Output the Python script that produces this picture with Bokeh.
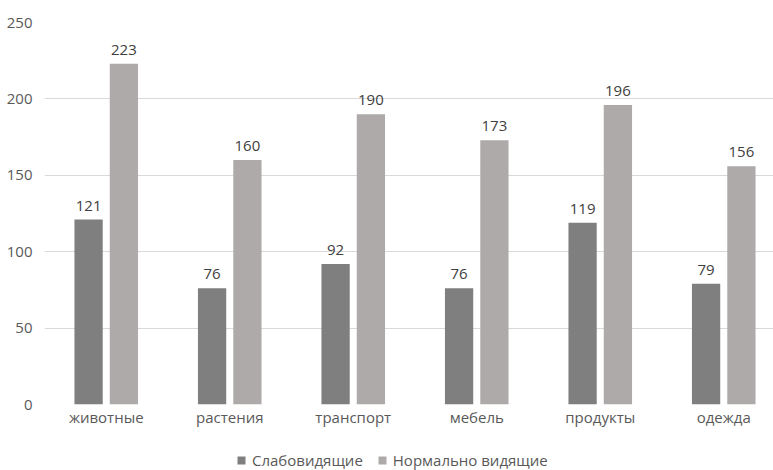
import numpy as np
from bokeh.plotting import figure
from bokeh.layouts import column
from bokeh.models import Range1d, FixedTicker, Legend, LegendItem, ColumnDataSource
from bokeh.core.properties import value
from bokeh.embed import file_html
from bokeh.resources import INLINE

categories = ["животные", "растения", "транспорт", "мебель", "продукты", "одежда"]
weak = [121, 76, 92, 76, 119, 79]
normal = [223, 160, 190, 173, 196, 156]
series_names = ["Слабовидящие", "Нормально видящие"]
y_ticks = [0, 50, 100, 150, 200, 250]

FONT = "Open Sans"
LABEL_COLOR = "#595959"
C1 = "#7f7f7f"
C2 = "#aeaaaa"

n = len(categories)
centers = np.arange(n) + 0.5
off = 0.143
bw = 0.229

p = figure(width=773, height=440, output_backend="svg", toolbar_location=None,
           x_range=Range1d(0, 729 / 123.5), y_range=Range1d(0, 250),
           min_border_left=44, min_border_right=0, min_border_top=22, min_border_bottom=36)
p.outline_line_color = None
p.background_fill_color = "white"
p.border_fill_color = "white"

src1 = ColumnDataSource(dict(x=centers - off, top=weak, lbl=[str(v) for v in weak]))
src2 = ColumnDataSource(dict(x=centers + off, top=normal, lbl=[str(v) for v in normal]))

r1 = p.vbar(x="x", top="top", width=bw, source=src1, fill_color=C1, line_color=None)
r2 = p.vbar(x="x", top="top", width=bw, source=src2, fill_color=C2, line_color=None)

for s in (src1, src2):
    p.text(x="x", y="top", text="lbl", source=s, text_align="center", text_baseline="alphabetic",
           y_offset=-14, text_font=value(FONT), text_font_size="15px", text_color="#404040")

p.xgrid.visible = False
p.ygrid.ticker = FixedTicker(ticks=y_ticks)
p.ygrid.grid_line_color = "#d9d9d9"
p.ygrid.grid_line_width = 1

p.yaxis.ticker = FixedTicker(ticks=y_ticks)
p.yaxis.axis_line_color = None
p.yaxis.major_tick_line_color = None
p.yaxis.minor_tick_line_color = None
p.yaxis.major_label_standoff = 6
p.yaxis.major_label_text_font = FONT
p.yaxis.major_label_text_font_size = "15px"
p.yaxis.major_label_text_color = LABEL_COLOR

p.xaxis.ticker = FixedTicker(ticks=list(centers))
p.xaxis.major_label_overrides = {float(c): name for c, name in zip(centers, categories)}
p.xaxis.axis_line_color = None
p.xaxis.major_tick_line_color = None
p.xaxis.minor_tick_line_color = None
p.xaxis.major_tick_out = 0
p.xaxis.major_label_standoff = 2
p.xaxis.major_label_text_font = FONT
p.xaxis.major_label_text_font_size = "15px"
p.xaxis.major_label_text_color = LABEL_COLOR

# legend strip below the chart (its own bars are kept out of view; only the legend shows)
lf = figure(width=773, height=30, output_backend="svg", toolbar_location=None,
            x_range=Range1d(-20, -19), y_range=Range1d(0, 1),
            x_axis_location=None, y_axis_location=None,
            min_border_left=0, min_border_right=0, min_border_top=0, min_border_bottom=0)
lf.outline_line_color = None
lf.xgrid.visible = False
lf.ygrid.visible = False
l1 = lf.vbar(x="x", top="top", width=bw, source=src1, fill_color=C1, line_color=None)
l2 = lf.vbar(x="x", top="top", width=bw, source=src2, fill_color=C2, line_color=None)

legend = Legend(items=[LegendItem(label=series_names[0], renderers=[l1]),
                       LegendItem(label=series_names[1], renderers=[l2])],
                orientation="horizontal", location=(192, 0),
                glyph_width=10, glyph_height=10, label_standoff=6, spacing=14,
                label_text_font=FONT, label_text_font_size="15px", label_text_color=LABEL_COLOR,
                border_line_color=None, background_fill_alpha=0, padding=0, margin=0,
                label_height=16, label_text_baseline="middle")
lf.add_layout(legend, "center")

layout = column(p, lf, spacing=0)
open("out.html", "w").write(file_html(layout, INLINE))
